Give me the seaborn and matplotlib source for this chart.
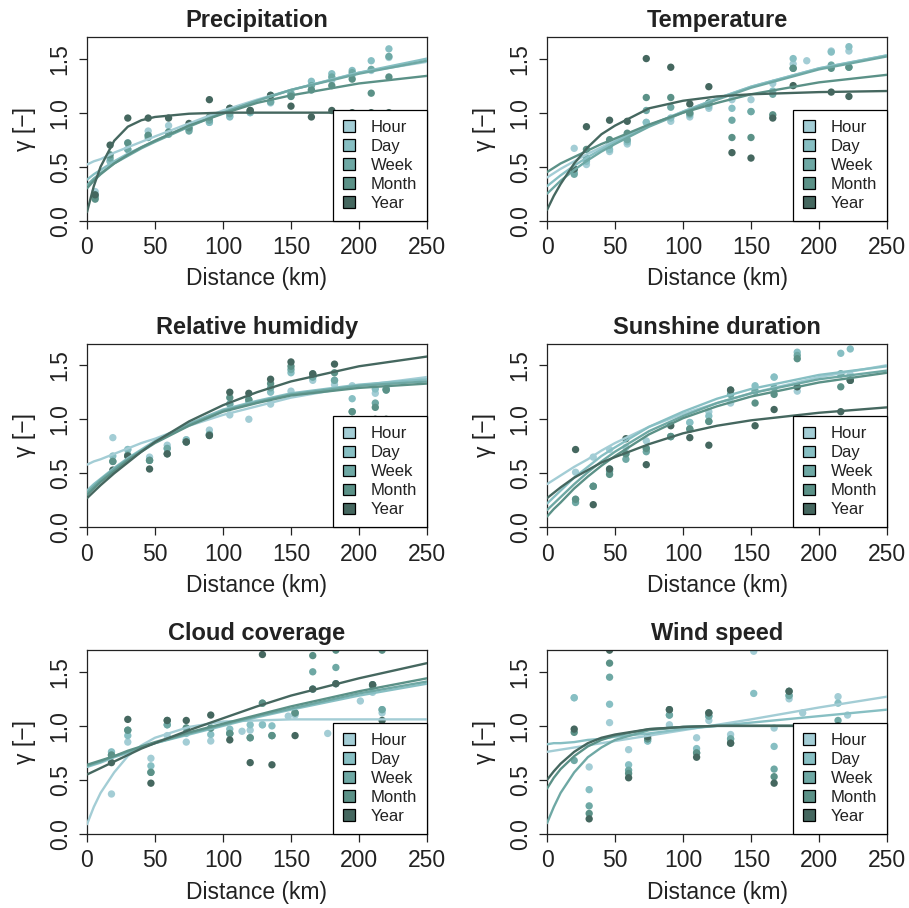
import numpy as np
import pandas as pd
import matplotlib
matplotlib.use("Agg")
import matplotlib.pyplot as plt
from matplotlib.patches import Patch
import seaborn as sns

nan = np.nan
series = ["Hour", "Day", "Week", "Month", "Year"]
colors = ["#a3cdd5", "#87bfc3", "#6ea8a4", "#5b9187", "#45675f"]

curve_dist = [0, 5, 10, 20, 30, 40, 50, 75, 100, 125, 150, 200, 250]

# Precipitation
precip_dist = [6, 17, 30, 45, 60, 75, 90, 105, 120, 135, 150, 165, 180, 195, 209, 222]
precip_pts = {
    "Hour":  [0.27, 0.55, 0.72, 0.83, 0.88, 0.85, 0.91, 0.97, 1.00, 1.09, 1.15, 1.21, 1.30, 1.35, 1.39, 1.51],
    "Day":   [0.24, 0.55, 0.66, 0.79, 0.82, 0.85, 0.91, 0.96, 1.00, 1.10, 1.18, 1.29, 1.36, 1.39, 1.48, 1.59],
    "Week":  [0.22, 0.58, 0.66, 0.77, 0.80, 0.83, 0.93, 0.99, 1.01, 1.10, 1.17, 1.25, 1.33, 1.37, 1.40, 1.52],
    "Month": [0.20, 0.61, 0.72, 0.79, 0.82, 0.86, 0.96, 1.04, 1.02, 1.16, 1.15, 1.21, 1.25, 1.31, 1.18, 1.33],
    "Year":  [0.24, 0.70, 0.95, 0.95, 0.95, 0.90, 1.12, 1.04, 1.02, 1.16, 1.06, 0.96, 1.02, 1.00, 1.00, 1.00],
}
precip_fit = {
    "Hour":  [0.52, 0.55, 0.57, 0.63, 0.68, 0.73, 0.78, 0.90, 1.02, 1.12, 1.21, 1.37, 1.47],
    "Day":   [0.38, 0.43, 0.47, 0.55, 0.62, 0.68, 0.74, 0.88, 1.00, 1.11, 1.21, 1.37, 1.50],
    "Week":  [0.33, 0.39, 0.44, 0.53, 0.60, 0.67, 0.73, 0.87, 1.00, 1.11, 1.21, 1.36, 1.48],
    "Month": [0.30, 0.37, 0.43, 0.53, 0.61, 0.68, 0.74, 0.88, 0.99, 1.09, 1.16, 1.27, 1.34],
    "Year":  [0.08, 0.32, 0.50, 0.74, 0.87, 0.93, 0.96, 0.99, 1.00, 1.00, 1.00, 1.00, 1.00],
}

# Temperature
temp_dist = [20, 29, 46, 59, 73, 91, 105, 119, 136, 150, 166, 181, 191, 209, 222]
temp_pts = {
    "Hour":  [0.67, 0.52, 0.64, 0.71, 0.91, 0.92, 0.96, 1.04, 1.12, 1.12, 1.27, 1.45, 1.48, 1.57, 1.57],
    "Day":   [0.45, 0.55, 0.66, 0.73, 0.91, 0.95, 0.98, 1.06, 1.04, 1.01, 1.20, 1.50, nan, 1.56, 1.61],
    "Week":  [0.43, 0.58, 0.70, 0.75, 1.02, 1.05, 0.99, 1.09, 0.93, 1.01, 1.17, 1.41, nan, 1.44, 1.42],
    "Month": [0.48, 0.66, 0.75, 0.81, 1.14, 1.14, 1.00, 1.09, 0.77, 0.77, 0.98, 1.41, nan, 1.41, 1.42],
    "Year":  [0.48, 0.87, 0.93, 0.92, 1.50, 1.42, 1.08, 1.24, 0.63, 0.58, 0.95, 1.25, nan, 1.19, 1.15],
}
temp_fit = {
    "Hour":  [0.40, 0.44, 0.48, 0.55, 0.62, 0.68, 0.74, 0.88, 1.01, 1.13, 1.24, 1.41, 1.53],
    "Day":   [0.32, 0.37, 0.42, 0.51, 0.59, 0.66, 0.73, 0.88, 1.01, 1.13, 1.24, 1.41, 1.53],
    "Week":  [0.25, 0.31, 0.37, 0.47, 0.56, 0.64, 0.71, 0.87, 1.00, 1.12, 1.23, 1.40, 1.52],
    "Month": [0.45, 0.49, 0.53, 0.59, 0.65, 0.71, 0.76, 0.89, 1.00, 1.09, 1.17, 1.28, 1.35],
    "Year":  [0.10, 0.23, 0.34, 0.53, 0.68, 0.80, 0.88, 1.04, 1.11, 1.15, 1.17, 1.19, 1.20],
}

# Relative humidity
rh_dist = [19, 30, 46, 59, 73, 90, 105, 119, 135, 150, 166, 182, 195, 212, 220]
rh_pts = {
    "Hour":  [0.83, 0.72, 0.65, 0.76, 0.81, 0.90, 1.04, 1.00, 1.14, 1.26, 1.36, 1.32, 1.31, 1.24, 1.28],
    "Day":   [0.66, 0.72, 0.62, 0.73, 0.81, 0.86, 1.14, 1.16, 1.25, 1.43, 1.39, 1.36, 1.19, 1.28, 1.27],
    "Week":  [0.61, 0.67, 0.62, 0.73, 0.79, 0.86, 1.14, 1.18, 1.29, 1.46, 1.39, 1.36, 1.07, 1.15, 1.28],
    "Month": [0.61, 0.66, 0.62, 0.68, 0.79, 0.85, 1.20, 1.18, 1.33, 1.49, 1.42, 1.43, 1.07, 1.11, 1.27],
    "Year":  [0.53, 0.66, 0.54, 0.68, 0.79, 0.85, 1.25, 1.24, 1.37, 1.53, 1.42, 1.51, 0.90, 1.00, 1.00],
}
rh_fit = {
    "Hour":  [0.58, 0.61, 0.63, 0.68, 0.73, 0.78, 0.82, 0.94, 1.04, 1.12, 1.20, 1.31, 1.39],
    "Day":   [0.34, 0.40, 0.45, 0.55, 0.64, 0.72, 0.80, 0.96, 1.09, 1.17, 1.24, 1.32, 1.37],
    "Week":  [0.32, 0.38, 0.44, 0.54, 0.63, 0.71, 0.79, 0.95, 1.08, 1.16, 1.23, 1.31, 1.35],
    "Month": [0.30, 0.36, 0.42, 0.52, 0.62, 0.70, 0.78, 0.94, 1.07, 1.15, 1.22, 1.29, 1.33],
    "Year":  [0.27, 0.33, 0.39, 0.50, 0.60, 0.70, 0.79, 0.98, 1.13, 1.25, 1.35, 1.49, 1.58],
}

# Sunshine duration
sun_dist = [21, 34, 46, 58, 73, 91, 105, 119, 135, 153, 167, 184, 216, 223]
sun_pts = {
    "Hour":  [0.51, 0.65, 0.72, 0.74, 0.80, 0.84, 0.97, 1.07, 1.15, 1.26, 1.39, 1.26, 1.42, 1.41],
    "Day":   [0.26, 0.38, 0.54, 0.68, 0.73, 0.84, 0.97, 1.03, 1.23, 1.31, 1.39, 1.62, 1.61, 1.65],
    "Week":  [0.23, 0.38, 0.52, 0.63, 0.70, 0.84, 0.91, 0.98, 1.23, 1.26, 1.29, 1.59, 1.42, 1.36],
    "Month": [0.26, 0.38, 0.49, 0.68, 0.73, 0.84, 0.91, 0.98, 1.27, 1.15, 1.23, 1.56, 1.30, 1.36],
    "Year":  [0.72, 0.21, 0.54, 0.82, 0.58, 0.94, 0.83, 0.76, 1.27, 0.94, 1.09, 1.30, 1.07, 1.36],
}
sun_fit = {
    "Hour":  [0.40, 0.44, 0.48, 0.56, 0.63, 0.71, 0.78, 0.93, 1.05, 1.15, 1.24, 1.39, 1.50],
    "Day":   [0.22, 0.28, 0.34, 0.46, 0.56, 0.66, 0.74, 0.93, 1.07, 1.19, 1.28, 1.41, 1.49],
    "Week":  [0.16, 0.22, 0.28, 0.40, 0.51, 0.61, 0.70, 0.89, 1.03, 1.15, 1.24, 1.37, 1.45],
    "Month": [0.10, 0.17, 0.23, 0.36, 0.47, 0.57, 0.66, 0.86, 1.01, 1.12, 1.21, 1.34, 1.43],
    "Year":  [0.27, 0.32, 0.37, 0.46, 0.53, 0.60, 0.65, 0.77, 0.87, 0.94, 0.99, 1.06, 1.11],
}

# Cloud coverage
cloud_dist = [18, 30, 47, 59, 73, 91, 105, 114, 120, 129, 136, 148, 153, 166, 177, 183, 201, 210, 217]
cloud_pts = {
    "Hour":  [0.37, 0.85, 0.70, 0.91, 0.85, 0.86, 0.93, 0.95, 0.96, 1.01, 0.91, 1.09, 1.10, 1.34, 0.93, 1.39, 1.23, 1.31, 1.12],
    "Day":   [0.76, 0.91, 0.63, 1.01, 0.93, 0.92, 0.97, nan, 1.01, 1.01, 1.00, nan, 1.12, 1.34, nan, 1.39, nan, 1.37, 1.15],
    "Week":  [0.73, 0.96, 0.57, 1.01, 0.98, 0.98, 0.93, nan, 0.89, 1.21, 0.91, nan, 1.12, 1.50, nan, 1.54, nan, 1.38, 1.15],
    "Month": [0.73, 0.96, 0.57, 1.05, 0.98, 0.98, 0.93, nan, 0.89, 1.21, 0.91, nan, 1.12, 1.65, nan, 1.70, nan, 1.38, 1.70],
    "Year":  [0.66, 1.06, 0.47, 1.05, 1.05, 1.10, 0.87, nan, 0.66, 1.66, 0.64, nan, 0.91, 1.34, nan, 1.39, nan, 1.38, 1.05],
}
cloud_fit = {
    "Hour":  [0.09, 0.25, 0.38, 0.57, 0.72, 0.82, 0.89, 0.99, 1.04, 1.05, 1.06, 1.06, 1.06],
    "Day":   [0.62, 0.64, 0.66, 0.71, 0.75, 0.80, 0.84, 0.92, 1.00, 1.08, 1.15, 1.28, 1.39],
    "Week":  [0.63, 0.65, 0.67, 0.72, 0.76, 0.80, 0.84, 0.93, 1.01, 1.09, 1.16, 1.30, 1.41],
    "Month": [0.64, 0.66, 0.68, 0.72, 0.77, 0.81, 0.85, 0.94, 1.02, 1.10, 1.18, 1.32, 1.44],
    "Year":  [0.55, 0.58, 0.61, 0.67, 0.73, 0.79, 0.84, 0.96, 1.07, 1.18, 1.28, 1.44, 1.58],
}

# Wind speed
wind_dist = [20, 31, 46, 60, 74, 90, 110, 119, 135, 152, 167, 178, 188, 214, 221]
wind_pts = {
    "Hour":  [1.26, 0.62, 1.03, 0.78, 0.86, 1.01, 0.89, 1.05, 0.92, 1.69, 0.98, 1.25, 1.12, 1.27, 1.10],
    "Day":   [1.26, 0.41, 1.20, 0.64, 0.86, 1.10, 0.79, 1.09, 0.88, 1.30, 0.81, 1.28, nan, 1.21, nan],
    "Week":  [0.68, 0.26, 1.45, 0.59, 0.88, 1.10, 0.75, 1.09, 0.88, nan, 0.60, 1.28, nan, 1.05, nan],
    "Month": [0.94, 0.19, 1.58, 0.56, 0.88, 1.15, 0.75, 1.12, 0.84, nan, 0.53, 1.32, nan, 1.00, nan],
    "Year":  [0.97, 0.14, 1.70, 0.52, 0.90, 1.15, 0.71, 1.12, 0.84, nan, 0.47, 1.32, nan, 1.00, nan],
}
wind_fit = {
    "Hour":  [0.76, 0.77, 0.78, 0.80, 0.82, 0.84, 0.86, 0.91, 0.96, 1.01, 1.06, 1.17, 1.27],
    "Day":   [0.83, 0.84, 0.84, 0.85, 0.87, 0.88, 0.90, 0.93, 0.97, 1.00, 1.03, 1.09, 1.15],
    "Week":  [0.10, 0.25, 0.38, 0.57, 0.71, 0.80, 0.87, 0.96, 0.99, 1.00, 1.00, 1.00, 1.00],
    "Month": [0.42, 0.52, 0.60, 0.72, 0.81, 0.87, 0.91, 0.97, 0.99, 1.00, 1.00, 1.00, 1.00],
    "Year":  [0.50, 0.58, 0.65, 0.76, 0.84, 0.89, 0.92, 0.97, 0.99, 1.00, 1.00, 1.00, 1.00],
}

panels = [
    ("Precipitation", precip_dist, precip_pts, precip_fit),
    ("Temperature", temp_dist, temp_pts, temp_fit),
    ("Relative humididy", rh_dist, rh_pts, rh_fit),
    ("Sunshine duration", sun_dist, sun_pts, sun_fit),
    ("Cloud coverage", cloud_dist, cloud_pts, cloud_fit),
    ("Wind speed", wind_dist, wind_pts, wind_fit),
]

sns.set_style("ticks")
plt.rcParams["font.family"] = ["Liberation Sans", "DejaVu Sans"]
plt.rcParams["axes.linewidth"] = 0.9

fig, axes = plt.subplots(3, 2, figsize=(9.09, 9.08), dpi=100)
fig.subplots_adjust(left=0.0957, right=0.9758, bottom=0.0815, top=0.9593,
                    wspace=0.353, hspace=0.668)

palette = dict(zip(series, colors))
ink = "#222222"

for ax, (title, dist, pts, fit) in zip(axes.flat, panels):
    pts_df = pd.DataFrame(
        [(d, v, s) for s in series for d, v in zip(dist, pts[s])],
        columns=["distance", "gamma", "series"],
    ).dropna()
    fit_df = pd.DataFrame(
        [(d, v, s) for s in series for d, v in zip(curve_dist, fit[s])],
        columns=["distance", "gamma", "series"],
    )
    sns.scatterplot(data=pts_df, x="distance", y="gamma", hue="series",
                    hue_order=series, palette=palette, s=28, linewidth=0,
                    legend=False, ax=ax, zorder=2)
    sns.lineplot(data=fit_df, x="distance", y="gamma", hue="series",
                 hue_order=series, palette=palette, lw=1.7, estimator=None,
                 legend=False, ax=ax, zorder=3)

    ax.set_xlim(0, 250)
    ax.set_ylim(0, 1.7)
    ax.set_xticks([0, 50, 100, 150, 200, 250])
    ax.set_yticks([0.0, 0.5, 1.0, 1.5])
    ax.set_yticklabels(["0.0", "0.5", "1.0", "1.5"], rotation=90, va="center")
    ax.tick_params(direction="out", length=6, width=0.9, labelsize=16.5,
                   color=ink, labelcolor=ink, pad=5)
    for sp in ax.spines.values():
        sp.set_visible(True)
        sp.set_color(ink)
    ax.set_title(title, fontsize=17, fontweight="bold", color=ink, pad=7)
    ax.set_xlabel("Distance (km)", fontsize=16.5, color=ink, labelpad=6)
    ax.set_ylabel("\u03b3 [\u2212]", fontsize=16.5, color=ink, labelpad=9)

    handles = [Patch(facecolor=c, edgecolor="black", linewidth=0.9) for c in colors]
    leg = ax.legend(handles, series, loc="lower right", borderaxespad=0,
                    fancybox=False, framealpha=1, edgecolor="black",
                    fontsize=12, handlelength=0.7, handleheight=0.7,
                    handletextpad=0.95, labelspacing=0.24, borderpad=0.6)
    leg.get_frame().set_linewidth(0.9)
    leg.set_zorder(5)
    for t in leg.get_texts():
        t.set_color(ink)

fig.savefig("out.png", dpi=100)
